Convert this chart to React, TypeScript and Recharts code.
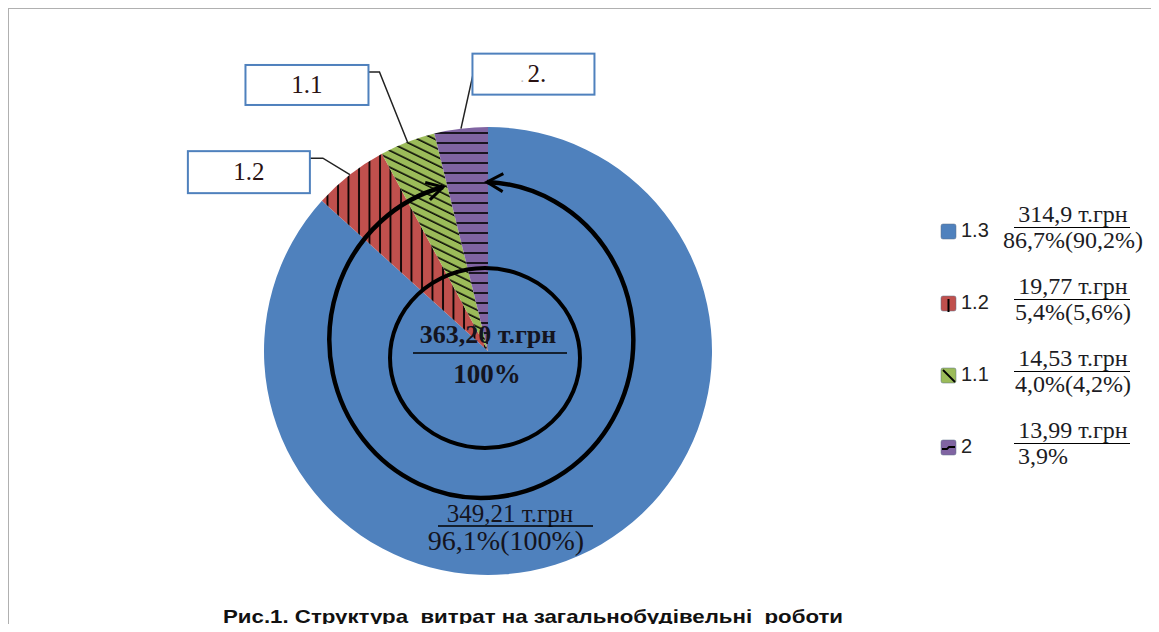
import React from 'react'
import { PieChart, Pie, Cell, Legend, Customized } from 'recharts'

// Структура витрат, т.грн
const names = ['1.3', '1.2', '1.1', '2']
const values = [314.9, 19.77, 14.53, 13.99]
const valueLabels = ['314,9 т.грн', '19,77 т.грн', '14,53 т.грн', '13,99 т.грн']
const shareLabels = ['86,7%(90,2%)', '5,4%(5,6%)', '4,0%(4,2%)', '3,9%']
const calloutLabels = ['', '1.2', '1.1', '2.']
const totalLabels = ['363,20 т.грн', '100%']
const groupLabels = ['349,21 т.грн', '96,1%(100%)']
const title = 'Рис.1. Структура  витрат на загальнобудівельні  роботи'

const colors = ['#4f81bd', '#c0504d', '#9bbb59', '#8064a2']
const fills = ['#4f81bd', 'url(#hatchRed)', 'url(#hatchGreen)', 'url(#hatchPurple)']

const data = names.map((name, i) => ({ name, value: values[i] }))

const CX = 488
const CY = 351
const R = 224

const serif = "'Liberation Serif', 'Times New Roman', serif"
const sans = "'Liberation Sans', Arial, sans-serif"

// callout boxes, offsets from the slice edge point
const callouts: Record<number, { bx: number; by: number; w: number; h: number; leader: number[][] }> = {
  1: { bx: -162, by: -23.5, w: 122, h: 42, leader: [[0, 0], [-27, -16.5], [-40, -16.5]] },
  2: { bx: -162, by: -77, w: 123, h: 40, leader: [[0, 0], [-28, -70], [-39, -70]] },
  3: { bx: 11.5, by: -75, w: 122, h: 41, leader: [[0, 0], [12, -54]] },
}

const RAD = Math.PI / 180

function Defs() {
  return (
    <defs>
      <pattern id="hatchRed" patternUnits="userSpaceOnUse" width={10.5} height={10}>
        <rect width={10.5} height={10} fill={colors[1]} />
        <line x1={2} y1={0} x2={2} y2={10} stroke="#000" strokeWidth={1.8} />
      </pattern>
      <pattern id="hatchGreen" patternUnits="userSpaceOnUse" width={10} height={7.5} patternTransform="rotate(26)">
        <rect width={10} height={7.5} fill={colors[2]} />
        <line x1={0} y1={2} x2={10} y2={2} stroke="#000" strokeWidth={1.5} />
      </pattern>
      <pattern id="hatchPurple" patternUnits="userSpaceOnUse" width={16} height={10}>
        <rect width={16} height={10} fill={colors[3]} />
        <line x1={0} y1={3} x2={16} y2={3} stroke="#000" strokeWidth={1.6} />
      </pattern>
      <marker
        id="arrowHead"
        viewBox="0 0 24 24"
        refX={20}
        refY={12}
        markerWidth={24}
        markerHeight={24}
        markerUnits="userSpaceOnUse"
        orient="auto-start-reverse"
      >
        <path d="M4,3 L20,12 L4,21" fill="none" stroke="#000" strokeWidth={3} />
      </marker>
    </defs>
  )
}

// rings, arrows and totals drawn over the pie
function Annotations({ cx, cy }: { cx: number; cy: number }) {
  return (
    <g>
      <ellipse cx={cx - 3} cy={cy + 7} rx={95} ry={90} fill="none" stroke="#000" strokeWidth={4} />
      <path
        d={`M ${cx - 45} ${cy - 164} A 152 158 0 1 0 ${cx - 1} ${cy - 169}`}
        fill="none"
        stroke="#000"
        strokeWidth={4.5}
        markerStart="url(#arrowHead)"
        markerEnd="url(#arrowHead)"
      />

      <text x={cx} y={cy - 8} textAnchor="middle" fontFamily={serif} fontSize={26} fontWeight="bold" fill="#14141e">
        {totalLabels[0]}
      </text>
      <line x1={cx - 75} y1={cy + 2} x2={cx + 79} y2={cy + 2} stroke="#000" strokeWidth={1.5} />
      <text x={cx - 1} y={cy + 32} textAnchor="middle" fontFamily={serif} fontSize={27} fontWeight="bold" fill="#14141e">
        {totalLabels[1]}
      </text>

      <text x={cx + 22} y={cy + 171} textAnchor="middle" fontFamily={serif} fontSize={25} fill="#14141e">
        {groupLabels[0]}
      </text>
      <line x1={cx - 50} y1={cy + 175} x2={cx + 105} y2={cy + 175} stroke="#000" strokeWidth={1.5} />
      <text x={cx + 18} y={cy + 199} textAnchor="middle" fontFamily={serif} fontSize={28} fill="#14141e">
        {groupLabels[1]}
      </text>
    </g>
  )
}

function renderCallout(props: any) {
  const { cx, cy, midAngle, outerRadius, index } = props
  if (index === 0) return <Annotations key="annotations" cx={cx} cy={cy} />
  const c = callouts[index]
  if (!c) return null
  const ax = cx + outerRadius * Math.cos(-midAngle * RAD)
  const ay = cy + outerRadius * Math.sin(-midAngle * RAD)
  const pts = c.leader.map(([dx, dy]) => `${ax + dx},${ay + dy}`).join(' ')
  return (
    <g key={`callout-${index}`}>
      <polyline points={pts} fill="none" stroke="#222" strokeWidth={1.5} />
      <rect x={ax + c.bx} y={ay + c.by} width={c.w} height={c.h} fill="#fff" stroke="#4f81bd" strokeWidth={2} />
      <text
        x={ax + c.bx + c.w / 2}
        y={ay + c.by + c.h / 2 + 8}
        textAnchor="middle"
        fontFamily={serif}
        fontSize={25}
        fill="#2a1212"
      >
        {index === 3 && <tspan fill="#bbb" fontSize={14}>.  </tspan>}
        {calloutLabels[index]}
      </text>
    </g>
  )
}

function Title() {
  return (
    <text
      x={223}
      y={623}
      fontFamily={sans}
      fontSize={19}
      fontWeight="bold"
      fill="#111"
      textLength={620}
      lengthAdjust="spacingAndGlyphs"
      style={{ whiteSpace: 'pre' }}
    >
      {title}
    </text>
  )
}

function LegendMarker({ i }: { i: number }) {
  return (
    <svg width={17} height={17} style={{ display: 'block' }}>
      <rect x={1} y={1} width={15} height={15} rx={2} fill={colors[i]} stroke="#5d6f8a" strokeOpacity={0.5} strokeWidth={1} />
      {i === 1 && <line x1={8.5} y1={4} x2={8.5} y2={17} stroke="#000" strokeWidth={2} />}
      {i === 2 && <line x1={3} y1={3} x2={15} y2={15} stroke="#000" strokeWidth={1.8} />}
      {i === 3 && <path d="M2,10 L7,10 L9,8 L15,8" fill="none" stroke="#000" strokeWidth={1.8} />}
    </svg>
  )
}

function renderLegend() {
  return (
    <div style={{ width: 226 }}>
      {names.map((n, i) => (
        <div key={n} style={{ position: 'relative', height: 72 }}>
          <div style={{ position: 'absolute', left: 8, top: 28 }}>
            <LegendMarker i={i} />
          </div>
          <div
            style={{
              position: 'absolute',
              left: 29,
              top: 25,
              fontFamily: sans,
              fontSize: 20,
              lineHeight: '20px',
              color: '#222',
            }}
          >
            {n}
          </div>
          <div
            style={{
              position: 'absolute',
              left: 70,
              top: 7,
              width: 142,
              fontFamily: serif,
              fontSize: 24,
              lineHeight: '25px',
              color: '#1c1c24',
            }}
          >
            <div style={{ textAlign: 'center', whiteSpace: 'nowrap' }}>{valueLabels[i]}</div>
            <div style={{ marginLeft: 12, width: 116, borderTop: '1.5px solid #000' }} />
            <div
              style={{
                textAlign: i === 3 ? 'left' : 'center',
                paddingLeft: i === 3 ? 16 : 0,
                whiteSpace: 'nowrap',
              }}
            >
              {shareLabels[i]}
            </div>
          </div>
        </div>
      ))}
    </div>
  )
}

export default function App() {
  return (
    <div style={{ position: 'relative', width: 1159, height: 632, margin: -8, overflow: 'hidden', background: '#fff' }}>
      <div
        style={{
          position: 'absolute',
          left: 7,
          top: 7,
          width: 1200,
          height: 700,
          borderLeft: '2px solid #b0b0b0',
          borderTop: '2px solid #b0b0b0',
        }}
      />
      <div style={{ position: 'absolute', left: 0, top: 0 }}>
        <PieChart width={1159} height={632} margin={{ top: 0, right: 0, bottom: 0, left: 0 }}>
          <Customized component={<Defs />} />
          <Customized component={<Title />} />
          <Pie
            data={data}
            dataKey="value"
            nameKey="name"
            cx={CX}
            cy={CY}
            outerRadius={R}
            startAngle={90}
            endAngle={-270}
            stroke="none"
            label={renderCallout}
            labelLine={false}
            isAnimationActive={false}
          >
            {data.map((d, i) => (
              <Cell key={d.name} fill={fills[i]} />
            ))}
          </Pie>
          <Legend
            content={renderLegend}
            layout="vertical"
            align="right"
            verticalAlign="top"
            wrapperStyle={{ position: 'absolute', left: 932, top: 195, width: 226 }}
          />
        </PieChart>
      </div>
    </div>
  )
}
